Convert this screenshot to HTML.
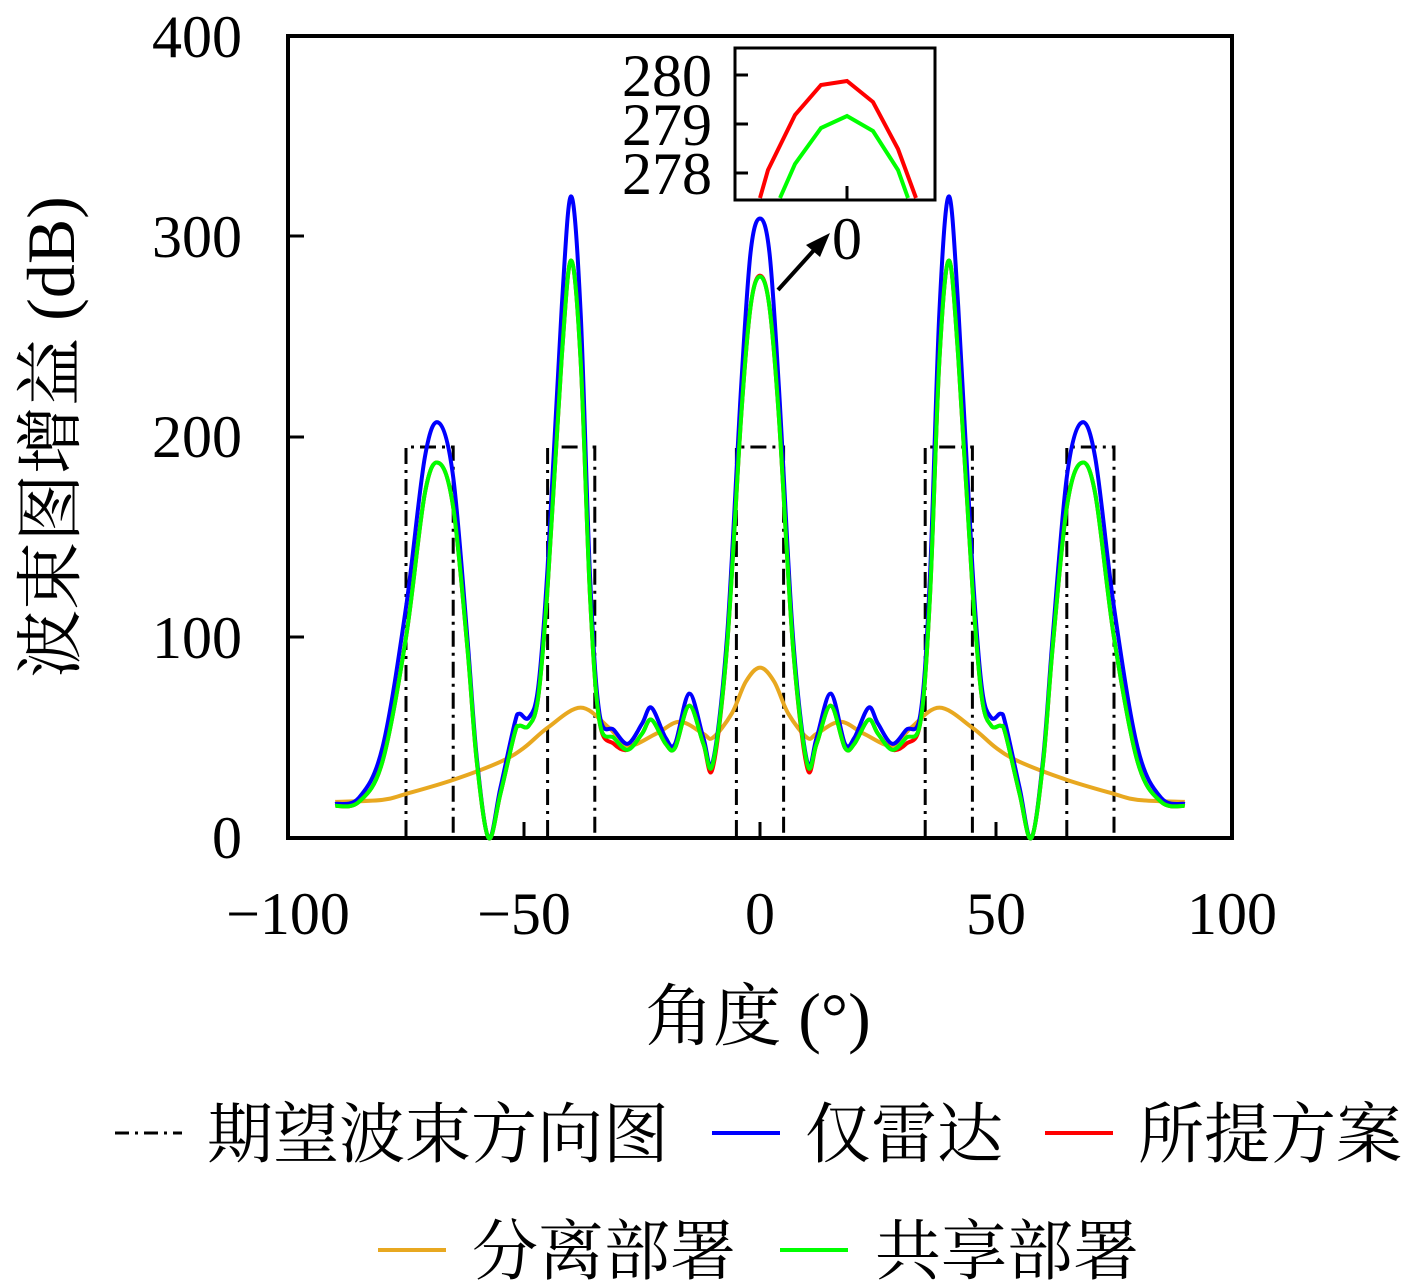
<!DOCTYPE html>
<html><head><meta charset="utf-8"><style>
body{margin:0;background:#fff;}
svg{display:block}
text{font-family:"Liberation Serif","Noto Serif CJK SC",serif;fill:#000}
</style></head><body>
<svg id="s" width="1417" height="1283" xmlns="http://www.w3.org/2000/svg">
<rect x="288" y="36" width="944" height="802" fill="none" stroke="#000" stroke-width="4"/>
<g id="boxes" fill="none" stroke="#000" stroke-width="3" stroke-dasharray="16,6,3,6"></g>
<g id="curves" fill="none" stroke-width="4"></g>
<g stroke="#000" stroke-width="3">
<line x1="524" y1="838" x2="524" y2="822"/><line x1="760" y1="838" x2="760" y2="822"/><line x1="996" y1="838" x2="996" y2="822"/>
<line x1="288" y1="637" x2="304" y2="637"/><line x1="288" y1="437" x2="304" y2="437"/><line x1="288" y1="236" x2="304" y2="236"/>
</g>
<g font-size="60" text-anchor="end">
<text x="242" y="858">0</text><text x="242" y="658">100</text><text x="242" y="457">200</text><text x="242" y="257">300</text><text x="242" y="57">400</text>
</g>
<g font-size="60" text-anchor="middle">
<text x="288" y="934">−100</text><text x="524" y="934">−50</text><text x="760" y="934">0</text><text x="996" y="934">50</text><text x="1232" y="934">100</text>
</g>
<text font-size="68" text-anchor="middle" transform="translate(74,437) rotate(-90)">波束图增益 (dB)</text>
<text x="758" y="1040" font-size="68" text-anchor="middle">角度 (°)</text>
<!-- inset -->
<rect x="735" y="48" width="200" height="152" fill="#fff" stroke="#000" stroke-width="3"/>
<g stroke="#000" stroke-width="3"><line x1="735" y1="75" x2="748" y2="75"/><line x1="735" y1="124" x2="748" y2="124"/><line x1="735" y1="173" x2="748" y2="173"/><line x1="847" y1="200" x2="847" y2="186"/></g>
<polyline fill="none" stroke="#f00" stroke-width="4" points="760,198 768,170 795,115 821,85 847,81 873,102 898,149 916,198"/>
<polyline fill="none" stroke="#0f0" stroke-width="4" points="780,198 795,164 821,128 847,116 873,131 898,170 908,198"/>
<g font-size="60" text-anchor="end"><text x="712" y="96">280</text><text x="712" y="145">279</text><text x="712" y="194">278</text></g>
<text x="847" y="259" font-size="60" text-anchor="middle">0</text>
<line x1="778" y1="290" x2="815" y2="249" stroke="#000" stroke-width="4"/>
<polygon points="830,233 806,245 820,257" fill="#000"/>
<!-- legend -->
<line x1="115" y1="1133" x2="182" y2="1133" stroke="#000" stroke-width="3" stroke-dasharray="14,6,3,6"/>
<text x="207" y="1157" font-size="66">期望波束方向图</text>
<line x1="712" y1="1133" x2="780" y2="1133" stroke="#00f" stroke-width="4"/>
<text x="805" y="1157" font-size="66">仅雷达</text>
<line x1="1045" y1="1133" x2="1113" y2="1133" stroke="#f00" stroke-width="4"/>
<text x="1138" y="1157" font-size="66">所提方案</text>
<line x1="378" y1="1250" x2="446" y2="1250" stroke="#e8a820" stroke-width="4"/>
<text x="472" y="1274" font-size="66">分离部署</text>
<line x1="780" y1="1250" x2="848" y2="1250" stroke="#0f0" stroke-width="4"/>
<text x="875" y="1274" font-size="66">共享部署</text>
</svg>
<script>
var X=function(d){return 760+4.72*d}, Y=function(v){return 838-2.005*v};
function mirror(h){var r=h.slice();for(var i=h.length-2;i>=0;i--)r.push([-h[i][0],h[i][1]]);return r;}
function path(pts){var p=pts.map(function(a){return [X(a[0]),Y(a[1])]});var d="M"+p[0][0]+","+p[0][1];
for(var i=0;i<p.length-1;i++){var p0=p[i-1]||p[i],p1=p[i],p2=p[i+1],p3=p[i+2]||p2;
d+=" C"+(p1[0]+(p2[0]-p0[0])/6)+","+(p1[1]+(p2[1]-p0[1])/6)+" "+(p2[0]-(p3[0]-p1[0])/6)+","+(p2[1]-(p3[1]-p1[1])/6)+" "+p2[0]+","+p2[1];}return d;}
var blue=mirror([[-90,17],[-85,20],[-80,45],[-75,115],[-71,190],[-68,207],[-65,180],[-62,100],[-60,40],[-57.5,0],[-55,25],[-52,57],[-51,62],[-49,60],[-47,75],[-45,135],[-42,265],[-40,320],[-38,262],[-36,130],[-34,62],[-31,54],[-28,47],[-25,57],[-23,65],[-20,50],[-18,47],[-15,72],[-12,50],[-10,38],[-7,100],[-4,225],[-2,292],[0,309]]);
var green=mirror([[-90,16],[-85,18],[-80,38],[-75,100],[-71,172],[-68,187],[-65,165],[-62,95],[-60,38],[-57.5,0],[-55,22],[-52,52],[-51,56],[-49,56],[-47,70],[-45,125],[-42,240],[-40,288],[-38,238],[-36,120],[-34,58],[-31,50],[-28,44],[-25,52],[-23,59],[-20,47],[-18,45],[-15,66],[-12,47],[-10,37],[-7,95],[-4,210],[-2,265],[0,280]]);
var red=green.map(function(a){var v=a[1];if(a[0]==0)v=280.5;if(Math.abs(a[0])==10)v=35;if(Math.abs(a[0])==31)v=47;return [a[0],v]});
var orange=mirror([[-90,18],[-80,19],[-75,22],[-65,29],[-55,38],[-50,45],[-45,55],[-38,65],[-32,55],[-28,46],[-22,52],[-17,58],[-12,52],[-10,50],[-6,62],[-3,78],[0,85]]);
var g=document.getElementById("curves");
[[orange,"#e8a820"],[blue,"#00f"],[red,"#f00"],[green,"#0f0"]].forEach(function(c){var e=document.createElementNS("http://www.w3.org/2000/svg","path");e.setAttribute("d",path(c[0]));e.setAttribute("stroke",c[1]);g.appendChild(e);});
var b=document.getElementById("boxes");
[[-75,-65],[-45,-35],[-5,5],[35,45],[65,75]].forEach(function(r){var e=document.createElementNS("http://www.w3.org/2000/svg","polyline");e.setAttribute("points",X(r[0])+",836 "+X(r[0])+","+447+" "+X(r[1])+",447 "+X(r[1])+",836");b.appendChild(e);});
</script>
</body></html>
